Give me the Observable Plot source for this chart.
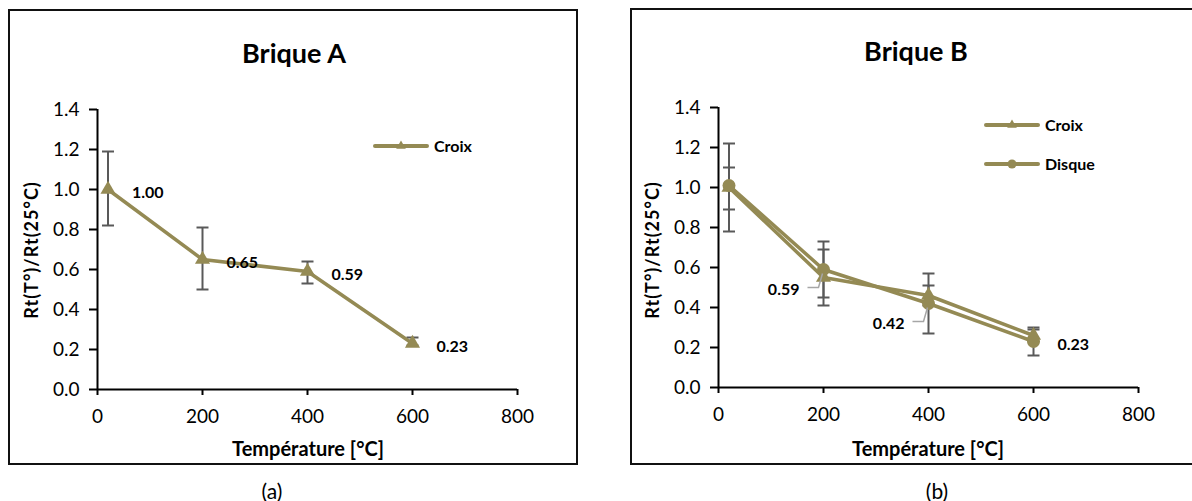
<!DOCTYPE html>
<html><head><meta charset="utf-8">
<script src="https://cdn.jsdelivr.net/npm/d3@7"></script>
<script src="https://cdn.jsdelivr.net/npm/@observablehq/plot@0.6"></script>
<style>
body{margin:0;width:1192px;height:501px;position:relative;background:#fff;font-family:Lato,"Open Sans",sans-serif;overflow:hidden;color:#000}
.box{position:absolute;border:2px solid #111;box-sizing:border-box}
.abs{position:absolute;white-space:nowrap;transform:translate(-50%,-50%);line-height:1}
.title{font-weight:bold;font-size:27px}
.xt{font-weight:bold;font-size:20px}
.yt{font-weight:bold;font-size:18px;letter-spacing:1px;transform:translate(-50%,-50%) rotate(-90deg)}
.cap{font-size:21px}
.plot{position:absolute;top:0}
.legend{position:absolute}
.legend text{font-family:Lato,sans-serif;font-weight:bold;font-size:16px}
</style></head>
<body>
<div class="box" style="left:8px;top:9px;width:570px;height:456px"></div>
<div class="box" style="left:630px;top:8px;width:564px;height:457px"></div>
<div class="abs title" style="left:294px;top:52px">Brique A</div>
<div class="abs title" style="left:916px;top:50px">Brique B</div>
<div class="abs xt" style="left:308px;top:448px">Température [°C]</div>
<div class="abs xt" style="left:928px;top:448px">Température [°C]</div>
<div class="abs yt" style="left:31px;top:250px">Rt(T°)/Rt(25°C)</div>
<div class="abs yt" style="left:652px;top:250px">Rt(T°)/Rt(25°C)</div>
<div class="abs cap" style="left:272px;top:490px">(a)</div>
<div class="abs cap" style="left:937px;top:490px">(b)</div>
<div id="pa" class="plot" style="left:0px"></div>
<div id="pb" class="plot" style="left:600px"></div>
<svg class="legend" style="left:373px;top:130px" width="120" height="32" id="lega"></svg>
<svg class="legend" style="left:984px;top:108px" width="140" height="72" id="legb"></svg>
<script>
// ---- data ----
const temps = [20, 200, 400, 600];
const xTicks = [0, 200, 400, 600, 800];
const yTicks = [0, 0.2, 0.4, 0.6, 0.8, 1.0, 1.2, 1.4];

const aCroix     = [1.00, 0.65, 0.59, 0.23];
const aCroixLow  = [0.82, 0.50, 0.53, 0.22];
const aCroixHigh = [1.19, 0.81, 0.64, 0.26];

const bCroix      = [1.00, 0.55, 0.46, 0.26];
const bCroixLow   = [0.89, 0.41, 0.41, 0.23];
const bCroixHigh  = [1.10, 0.69, 0.51, 0.29];
const bDisque     = [1.01, 0.59, 0.42, 0.23];
const bDisqueLow  = [0.78, 0.45, 0.27, 0.16];
const bDisqueHigh = [1.22, 0.73, 0.57, 0.30];
const bLabelled   = [false, true, true, true];

const series = ["Croix", "Disque"];

// ---- styles ----
const OLIVE = "#948a54";
const ERR = "#595959";
const LEADER = "#a6a6a6";
const TICK_FONT = 19;
const capSymbol = {draw(ctx){ ctx.moveTo(-6,0); ctx.lineTo(6,0); }};
const leaderLeft = {draw(ctx){ ctx.moveTo(-16,18); ctx.lineTo(-5,18); ctx.lineTo(-1,4); }};

function rows(vals, lo, hi){ return temps.map((t,i)=>({t, v: vals[i], lo: lo[i], hi: hi[i], i})); }

function base(marks, ml, mr, mt, mb, w){
  const svg = Plot.plot({
    width: w, height: 501,
    marginLeft: ml, marginRight: mr, marginTop: mt, marginBottom: mb,
    style: {fontFamily: "Lato, sans-serif", color: "#000", background: "transparent", overflow: "visible"},
    x: {domain: [0, 800], ticks: xTicks},
    y: {domain: [0, 1.4], ticks: yTicks},
    marks: [
      Plot.axisX({ticks: xTicks, tickSize: 6, tickPadding: 14, fontSize: TICK_FONT, strokeWidth: 2, label: null}),
      Plot.axisY({ticks: yTicks, tickSize: 8, tickPadding: 10, fontSize: TICK_FONT, strokeWidth: 2, tickFormat: d3.format(".1f"), label: null}),
      Plot.ruleY([0], {stroke: "#000", strokeWidth: 2}),
      Plot.ruleX([0], {stroke: "#000", strokeWidth: 2}),
      ...marks
    ]
  });
  svg.querySelectorAll('g[aria-label$="tick label"]').forEach(g => {
    g.setAttribute("font-size", TICK_FONT);
    g.querySelectorAll("text").forEach(t => t.style.fontSize = TICK_FONT + "px");
  });
  return svg;
}

function errMarks(d){
  return [
    Plot.ruleX(d, {x: "t", y1: "lo", y2: "hi", stroke: ERR, strokeWidth: 2}),
    Plot.dot(d, {x: "t", y: "lo", symbol: capSymbol, stroke: ERR, strokeWidth: 2, fill: "none"}),
    Plot.dot(d, {x: "t", y: "hi", symbol: capSymbol, stroke: ERR, strokeWidth: 2, fill: "none"})
  ];
}

// ---- panel A ----
const dA = rows(aCroix, aCroixLow, aCroixHigh);
document.getElementById("pa").append(base([
  ...errMarks(dA),
  Plot.line(dA, {x: "t", y: "v", stroke: OLIVE, strokeWidth: 3.5}),
  Plot.dot(dA, {x: "t", y: "v", symbol: "triangle", r: 5.6, fill: OLIVE}),
  Plot.text(dA, {x: "t", y: "v", text: d => d.v.toFixed(2), textAnchor: "start", dx: 24, dy: 3, fontSize: 16, fontWeight: "bold", fill: "#000"})
], 97, 83, 109, 112, 600));

// ---- panel B ----
const dBC = rows(bCroix, bCroixLow, bCroixHigh);
const dBD = rows(bDisque, bDisqueLow, bDisqueHigh);
const lab = dBD.filter(d => bLabelled[d.i]);
const labLeft = lab.filter(d => d.t < 500);
const labRight = lab.filter(d => d.t >= 500);
document.getElementById("pb").append(base([
  ...errMarks(dBC),
  ...errMarks(dBD),
  Plot.line(dBC, {x: "t", y: "v", stroke: OLIVE, strokeWidth: 3.5}),
  Plot.line(dBD, {x: "t", y: "v", stroke: OLIVE, strokeWidth: 3.5}),
  Plot.dot(dBC, {x: "t", y: "v", symbol: "triangle", r: 5.6, fill: OLIVE}),
  Plot.dot(dBD, {x: "t", y: "v", symbol: "circle", r: 6.5, fill: OLIVE}),
  Plot.dot(labLeft, {x: "t", y: "v", symbol: leaderLeft, stroke: LEADER, strokeWidth: 1.5, fill: "none"}),
  Plot.text(labLeft, {x: "t", y: "v", text: d => d.v.toFixed(2), textAnchor: "end", dx: -24, dy: 20, fontSize: 16, fontWeight: "bold", fill: "#000"}),
  Plot.text(labRight, {x: "t", y: "v", text: d => d.v.toFixed(2), textAnchor: "start", dx: 24, dy: 3, fontSize: 16, fontWeight: "bold", fill: "#000"})
], 118, 54, 107, 114, 592));

// ---- legends ----
function legendEntry(svg, y, name, symbol){
  const g = d3.select(svg);
  g.append("line").attr("x1", 2).attr("x2", 54).attr("y1", y).attr("y2", y).attr("stroke", OLIVE).attr("stroke-width", 4).attr("stroke-linecap", "round");
  g.append("path").attr("transform", `translate(28,${y})`).attr("d", d3.symbol(symbol === "Croix" ? d3.symbolTriangle : d3.symbolCircle, symbol === "Croix" ? 40 : 64)()).attr("fill", OLIVE);
  g.append("text").attr("x", 61).attr("y", y).attr("dy", "0.35em").text(name);
}
legendEntry(document.getElementById("lega"), 16, series[0], "Croix");
legendEntry(document.getElementById("legb"), 17, series[0], "Croix");
legendEntry(document.getElementById("legb"), 56, series[1], "Disque");
</script>
</body></html>
